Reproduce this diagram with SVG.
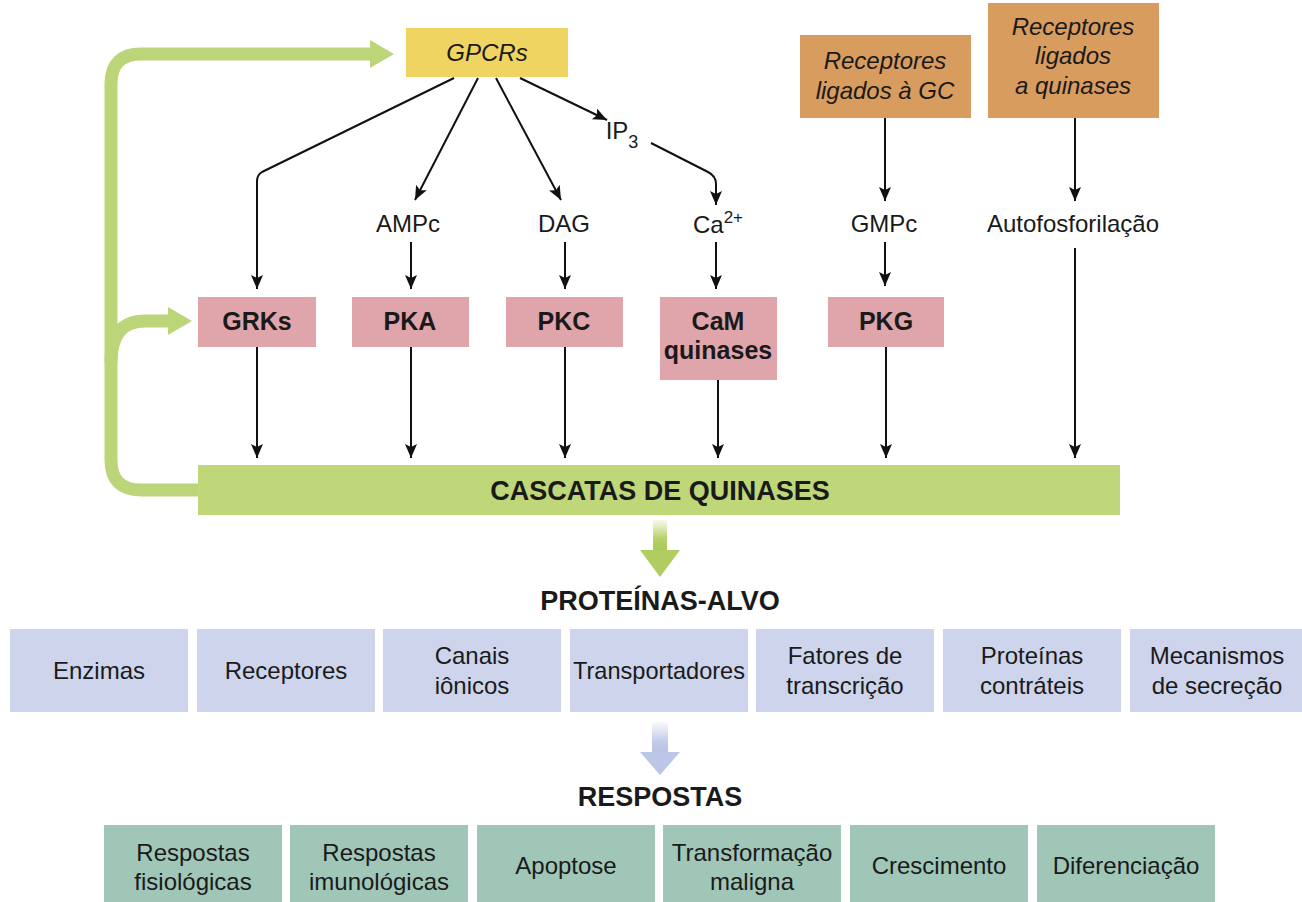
<svg xmlns="http://www.w3.org/2000/svg" width="1302" height="902" viewBox="0 0 1302 902">
<style>
.t{font-family:"Liberation Sans",Arial,sans-serif;font-size:24px;fill:#1a1a1a;text-anchor:middle}
.i{font-style:italic}
.b{font-weight:bold;font-size:25px}
.h{font-weight:bold;font-size:27px}
.c{stroke:#111;stroke-width:2;fill:none}
.gpcr{fill:#f0d462}
.or{fill:#d99c5f}
.pk{fill:#e0a5ab}
.gr{fill:#bfd679}
.bl{fill:#cdd4ec}
.tl{fill:#9fc6b7}
</style>
<defs>
<marker id="a" markerUnits="userSpaceOnUse" markerWidth="16" markerHeight="14" refX="14" refY="6" orient="auto">
<path d="M0,0 L14,6 L0,12 L3,6 z" fill="#111"/>
</marker>
<linearGradient id="gg" x1="0" y1="0" x2="0" y2="1">
<stop offset="0" stop-color="#bfd679" stop-opacity="0.15"/>
<stop offset="0.6" stop-color="#b5d068"/>
<stop offset="1" stop-color="#a9c95a"/>
</linearGradient>
<linearGradient id="bg" x1="0" y1="0" x2="0" y2="1">
<stop offset="0" stop-color="#cdd4ec" stop-opacity="0.15"/>
<stop offset="0.6" stop-color="#c4cce9"/>
<stop offset="1" stop-color="#b8c2e4"/>
</linearGradient>
</defs>
<rect width="1302" height="902" fill="#fff"/>

<g id="connectors">
<path class="c" d="M454,78 L262,172 Q257,175 257,181 V289" marker-end="url(#a)"/>
<path class="c" d="M478,78 L415,200" marker-end="url(#a)"/>
<path class="c" d="M496,78 L561,200" marker-end="url(#a)"/>
<path class="c" d="M520,78 L607,120" marker-end="url(#a)"/>
<path class="c" d="M651,143 L708,172 Q716,176 716,184 V205" marker-end="url(#a)"/>
<path class="c" d="M411,242 V289" marker-end="url(#a)"/>
<path class="c" d="M565,242 V289" marker-end="url(#a)"/>
<path class="c" d="M716,242 V289" marker-end="url(#a)"/>
<path class="c" d="M885,118 V201" marker-end="url(#a)"/>
<path class="c" d="M885,242 V286" marker-end="url(#a)"/>
<path class="c" d="M1075,118 V201" marker-end="url(#a)"/>
<path class="c" d="M1075,248 V458" marker-end="url(#a)"/>
<path class="c" d="M257,347 V458" marker-end="url(#a)"/>
<path class="c" d="M411,347 V458" marker-end="url(#a)"/>
<path class="c" d="M565,347 V458" marker-end="url(#a)"/>
<path class="c" d="M718,380 V458" marker-end="url(#a)"/>
<path class="c" d="M886,347 V458" marker-end="url(#a)"/>
<path d="M198,490 H141 Q111,490 111,460 V84 Q111,54 141,54 H372" fill="none" stroke="#bcd579" stroke-width="13"/>
<polygon points="370,40 394,54 370,68" fill="#bcd579"/>
<path d="M111,362 Q111,321 145,321 H170" fill="none" stroke="#bcd579" stroke-width="13"/>
<polygon points="168,307 192,321 168,335" fill="#bcd579"/>
<rect x="653" y="520" width="14" height="31" fill="url(#gg)"/>
<polygon points="640,550 680,550 660,577" fill="#afcd60"/>
<rect x="652" y="722" width="16" height="31" fill="url(#bg)"/>
<polygon points="640,752 680,752 660,775" fill="#bcc6e6"/>
</g>

<g id="gpcrs"><rect class="gpcr" x="406" y="28" width="162" height="49"/><text class="t i" x="487" y="61">GPCRs</text></g>
<g id="rec-gc"><rect class="or" x="800" y="35" width="171" height="83"/><text class="t i" x="885" y="69">Receptores</text><text class="t i" x="885" y="99">ligados à GC</text></g>
<g id="rec-quin"><rect class="or" x="988" y="3" width="171" height="115"/><text class="t i" x="1073" y="35">Receptores</text><text class="t i" x="1073" y="64">ligados</text><text class="t i" x="1073" y="94">a quinases</text></g>

<g id="ip3"><text class="t" x="622" y="139">IP<tspan font-size="18" dy="9">3</tspan></text></g>
<g id="ampc"><text class="t" x="408" y="232">AMPc</text></g>
<g id="dag"><text class="t" x="564" y="232">DAG</text></g>
<g id="ca"><text class="t" x="718" y="233">Ca<tspan font-size="17" dy="-10">2+</tspan></text></g>
<g id="gmpc"><text class="t" x="884" y="232">GMPc</text></g>
<g id="autofos"><text class="t" x="1073" y="232">Autofosforilação</text></g>

<g id="grks"><rect class="pk" x="198" y="297" width="118" height="50"/><text class="t b" x="257" y="330">GRKs</text></g>
<g id="pka"><rect class="pk" x="352" y="297" width="117" height="50"/><text class="t b" x="410" y="330">PKA</text></g>
<g id="pkc"><rect class="pk" x="506" y="297" width="117" height="50"/><text class="t b" x="564" y="330">PKC</text></g>
<g id="cam"><rect class="pk" x="660" y="297" width="117" height="83"/><text class="t b" x="718" y="330">CaM</text><text class="t b" x="718" y="359">quinases</text></g>
<g id="pkg"><rect class="pk" x="828" y="297" width="116" height="50"/><text class="t b" x="886" y="330">PKG</text></g>

<g id="cascatas"><rect class="gr" x="198" y="465" width="922" height="50"/><text class="t h" x="660" y="500">CASCATAS DE QUINASES</text></g>

<g id="proteinas-alvo"><text class="t h" x="660" y="610">PROTEÍNAS-ALVO</text></g>
<g id="enzimas"><rect class="bl" x="10" y="629" width="178" height="83"/><text class="t" x="99" y="679" font-size="25">Enzimas</text></g>
<g id="receptores"><rect class="bl" x="197" y="629" width="178" height="83"/><text class="t" x="286" y="679" font-size="25">Receptores</text></g>
<g id="canais"><rect class="bl" x="383" y="629" width="178" height="83"/><text class="t" x="472" y="664" font-size="25">Canais</text><text class="t" x="472" y="694" font-size="25">iônicos</text></g>
<g id="transportadores"><rect class="bl" x="570" y="629" width="178" height="83"/><text class="t" x="659" y="679" font-size="23" textLength="172" lengthAdjust="spacingAndGlyphs">Transportadores</text></g>
<g id="fatores"><rect class="bl" x="756" y="629" width="178" height="83"/><text class="t" x="845" y="664" font-size="25">Fatores de</text><text class="t" x="845" y="694" font-size="25">transcrição</text></g>
<g id="contrateis"><rect class="bl" x="943" y="629" width="178" height="83"/><text class="t" x="1032" y="664" font-size="25">Proteínas</text><text class="t" x="1032" y="694" font-size="25">contráteis</text></g>
<g id="secrecao"><rect class="bl" x="1130" y="629" width="178" height="83"/><text class="t" x="1217" y="664" font-size="25">Mecanismos</text><text class="t" x="1217" y="694" font-size="25">de secreção</text></g>

<g id="respostas"><text class="t h" x="660" y="806">RESPOSTAS</text></g>
<g id="fisiologicas"><rect class="tl" x="104" y="825" width="178" height="80"/><text class="t" x="193" y="861" font-size="25">Respostas</text><text class="t" x="193" y="890" font-size="25">fisiológicas</text></g>
<g id="imunologicas"><rect class="tl" x="290" y="825" width="178" height="80"/><text class="t" x="379" y="861" font-size="25">Respostas</text><text class="t" x="379" y="890" font-size="25">imunológicas</text></g>
<g id="apoptose"><rect class="tl" x="477" y="825" width="178" height="80"/><text class="t" x="566" y="874" font-size="25">Apoptose</text></g>
<g id="transformacao"><rect class="tl" x="663" y="825" width="178" height="80"/><text class="t" x="752" y="861" font-size="25">Transformação</text><text class="t" x="752" y="890" font-size="25">maligna</text></g>
<g id="crescimento"><rect class="tl" x="850" y="825" width="178" height="80"/><text class="t" x="939" y="874" font-size="25">Crescimento</text></g>
<g id="diferenciacao"><rect class="tl" x="1037" y="825" width="178" height="80"/><text class="t" x="1126" y="874" font-size="25">Diferenciação</text></g>
</svg>
